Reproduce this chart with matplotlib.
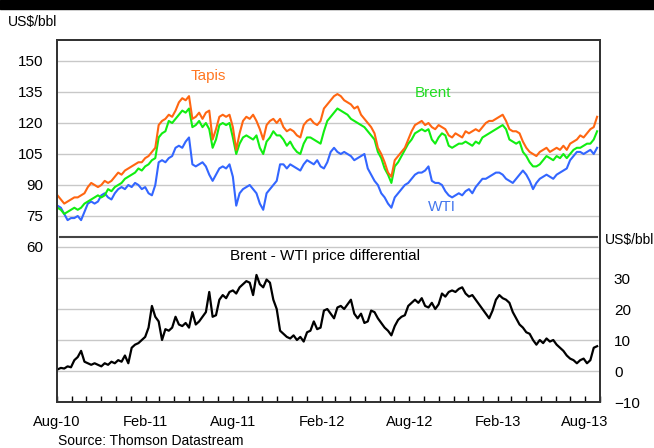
import matplotlib
matplotlib.use('Agg')
import matplotlib.pyplot as plt
import matplotlib.dates as mdates
from matplotlib.patches import Rectangle
import pandas as pd
import datetime as dt

plt.rcParams['font.family'] = ['Liberation Sans', 'DejaVu Sans']

# weekly values, US$/bbl, starting 2 Aug 2010
brent = [79, 78, 76, 77, 78, 79, 78, 79, 81, 82, 83, 84, 85, 84, 85, 88, 87, 89, 90, 91,
         93, 94, 95, 96, 98, 97, 99, 100, 102, 103, 113, 115, 116, 121, 120, 122, 124, 126, 125, 127,
         118, 119, 121, 118, 120, 117, 108, 112, 119, 120, 119, 120, 113, 105,
         110, 113, 114, 113, 112, 114, 108, 105, 111, 113, 116, 114, 114, 112, 109, 111, 108, 106, 105, 110,
         113, 113, 112, 111, 110, 116, 121, 123, 125, 127, 126, 125, 124, 122, 121, 120, 119, 118, 116, 114,
         112, 106, 103, 98, 95, 91, 99, 101, 104, 107, 110, 112,
         115, 116, 117, 116, 117, 112, 110, 113, 115, 114, 109, 108, 109, 110, 110, 111, 110, 109, 111, 110,
         113, 114, 115, 116, 117, 118, 119, 117, 112, 111, 110, 111, 106, 104, 101, 99, 99, 100, 102, 104,
         103, 102, 104, 103, 105, 103,
         105, 107, 108, 108, 109, 110, 110, 112, 116]

wti = [80, 79, 76, 73, 74, 74, 75, 73, 77, 81, 82, 81, 82, 85, 86, 84, 83, 86, 88, 89,
       88, 90, 89, 91, 90, 88, 89, 86, 85, 90, 101, 102, 101, 103, 104, 108, 109, 108, 111, 113,
       100, 99, 100, 101, 99, 95, 92, 95, 98, 99, 98, 100, 94, 80,
       86, 88, 89, 90, 88, 86, 81, 78, 86, 88, 90, 92, 100, 100, 98, 100, 99, 98, 97, 100,
       102, 101, 100, 102, 99, 98, 101, 106, 108, 106, 105, 106, 105, 104, 102, 103, 104, 105, 98, 95,
       92, 90, 86, 84, 81, 79, 84, 86, 88, 90, 91, 93,
       95, 96, 96, 97, 99, 92, 91, 91, 90, 87, 85, 84, 85, 86, 85, 87, 88, 86, 89, 91,
       93, 93, 94, 95, 96, 96, 95, 93, 92, 91, 93, 95, 97, 95, 92, 88, 91, 93, 94, 95,
       94, 93, 95, 96, 97, 98,
       102, 104, 106, 106, 105, 106, 107, 105, 108]

tapis = [85, 83, 81, 82, 83, 84, 84, 85, 86, 89, 91, 90, 89, 90, 92, 91, 92, 94, 96, 95,
         97, 98, 99, 100, 101, 101, 103, 104, 106, 108, 119, 121, 122, 124, 123, 126, 130, 132, 131, 133,
         122, 123, 125, 122, 125, 126, 112, 117, 123, 124, 123, 124, 118, 107,
         115, 121, 123, 122, 124, 121, 117, 112, 119, 121, 122, 120, 122, 118, 116, 117, 116, 114, 113, 119,
         121, 122, 120, 119, 121, 127, 129, 131, 133, 134, 133, 131, 130, 129, 127, 128, 124, 122, 120, 118,
         115, 108, 105, 101, 96, 94, 102, 104, 106, 108, 112, 116, 119, 120,
         121, 119, 120, 118, 117, 119, 118, 117, 114, 113, 115, 114, 113, 116, 115, 116, 117, 116, 118, 120,
         121, 121, 122, 123, 124, 121, 117, 116, 116, 115, 111, 108, 106, 105, 104, 106, 107, 108, 106, 107,
         108, 107, 109, 107, 110, 111, 112, 114, 113, 115, 117, 118, 123]

differential = [0.5, 1.0, 0.8, 1.5, 1.2, 3.5, 4.5, 6.5, 3.0, 2.5, 2.0, 2.5, 2.0, 1.5, 2.5, 2.0, 3.0, 2.5, 3.5, 3.0,
                5.0, 2.5, 7.5, 8.5, 9.0, 10.0, 11.0, 14.0, 21.0, 17.5, 16.0, 10.0, 13.5, 13.0, 14.0, 17.5, 15.0, 14.5, 15.5, 14.0,
                19.0, 15.0, 16.0, 17.5, 19.0, 25.5, 17.5, 18.0, 23.0, 24.5, 23.5, 25.5,
                26, 25, 27, 28, 29, 28.5, 24.5, 31.0, 28.0, 27.0, 29.5, 28.5, 23.0, 20.0, 13.0, 12.0, 11.0, 10.5, 11.5, 10.0,
                11.0, 9.5, 12.5, 13.0, 16.0, 13.5, 14.0, 19.5, 20.0, 18.5, 17.0, 20.5, 21.0, 20.0, 21.5, 23.0, 18.5, 17.0, 18.5, 15.5,
                16.0, 19.5, 19.0, 17.0, 15.5, 14.0, 13.0, 11.5, 14.5, 16.5, 17.5, 18.0, 21.0, 22.0, 23.0, 22.0,
                23.5, 21.0, 20.5, 22.0, 20.0, 21.5, 25.0, 24.0, 25.5, 26.0, 25.5, 26.5, 27.0, 25.0, 24.0, 24.5, 23.0, 21.5, 20.0, 18.5,
                17.0, 19.5, 23.0, 24.5, 23.5, 23.0, 22.0, 19.0, 17.0, 15.0, 14.0, 12.5, 12.0, 10.0, 8.5, 10.0, 9.0, 10.5, 9.5, 10.0,
                8.5, 7.5, 6.5, 5.0, 4.0, 3.5, 2.5, 3.5, 4.0, 2.5, 3.5, 7.5, 8.0]

dates = pd.date_range('2010-08-02', periods=len(brent), freq='7D')

left_ticks = [0, 15, 30, 45, 60, 75, 90, 105, 120, 135, 150]
left_labels = ['', '', '', '', '60', '75', '90', '105', '120', '135', '150']
right_ticks = [-10, 0, 10, 20, 30]

fig = plt.figure(figsize=(6.54, 4.48), dpi=100)
fig.patches.append(Rectangle((0, 1 - 9 / 448), 1, 9 / 448, transform=fig.transFigure,
                             color='black', zorder=0))

ax = fig.add_axes([57 / 654, 1 - 402 / 448, 543 / 654, 362 / 448])
ax.set_axisbelow(True)
ax.plot(dates, wti, color='#3366ff', lw=1.5)
ax.plot(dates, brent, color='#11ee11', lw=1.5)
ax.plot(dates, tapis, color='#ff6611', lw=1.5)
ax.axhline(64.8, xmin=0.006, xmax=0.994, color='#444444', lw=1.5)

ax.set_xlim(dt.date(2010, 8, 1), dt.date(2013, 9, 1))
ax.set_ylim(-15, 160.16)
ax.set_yticks(left_ticks)
ax.set_yticklabels(left_labels)
ax.yaxis.grid(True, color='#c8c8c8', lw=1)
ax.tick_params(axis='y', length=0, pad=10, labelsize=11)

ax.xaxis.set_major_locator(mdates.MonthLocator(bymonth=[2, 8]))
ax.xaxis.set_major_formatter(mdates.DateFormatter('%b-%y'))
ax.xaxis.set_minor_locator(mdates.MonthLocator())
ax.tick_params(axis='x', which='both', direction='in', length=4, width=1, pad=9, labelsize=10.5)

ax2 = ax.twinx()
ax2.plot(dates, differential, color='black', lw=1.6)
ax2.set_ylim(-10, 106.8)
ax2.set_yticks(right_ticks)
ax2.tick_params(axis='y', length=0, pad=10, labelsize=11)

for a in (ax, ax2):
    for s in a.spines.values():
        s.set_color('#333333')
        s.set_linewidth(1.3)

ax.text(0.278, 0.90, 'Tapis', transform=ax.transAxes, color='#ff7722', fontsize=11, ha='center', va='center')
ax.text(0.6924, 0.8536, 'Brent', transform=ax.transAxes, color='#22dd22', fontsize=11, ha='center', va='center')
ax.text(0.709, 0.5387, 'WTI', transform=ax.transAxes, color='#4477ee', fontsize=11, ha='center', va='center')
ax.text(0.4936, 0.4033, 'Brent - WTI price differential', transform=ax.transAxes, color='black',
        fontsize=11, ha='center', va='center')

fig.text(8 / 654, 1 - 22 / 448, 'US$/bbl', fontsize=10, ha='left', va='center')
fig.text(605 / 654, 1 - 240 / 448, 'US$/bbl', fontsize=10, ha='left', va='center')
fig.text(58 / 654, 1 - 441 / 448, 'Source: Thomson Datastream', fontsize=10, ha='left', va='center')

fig.savefig('out.png', dpi=100)
